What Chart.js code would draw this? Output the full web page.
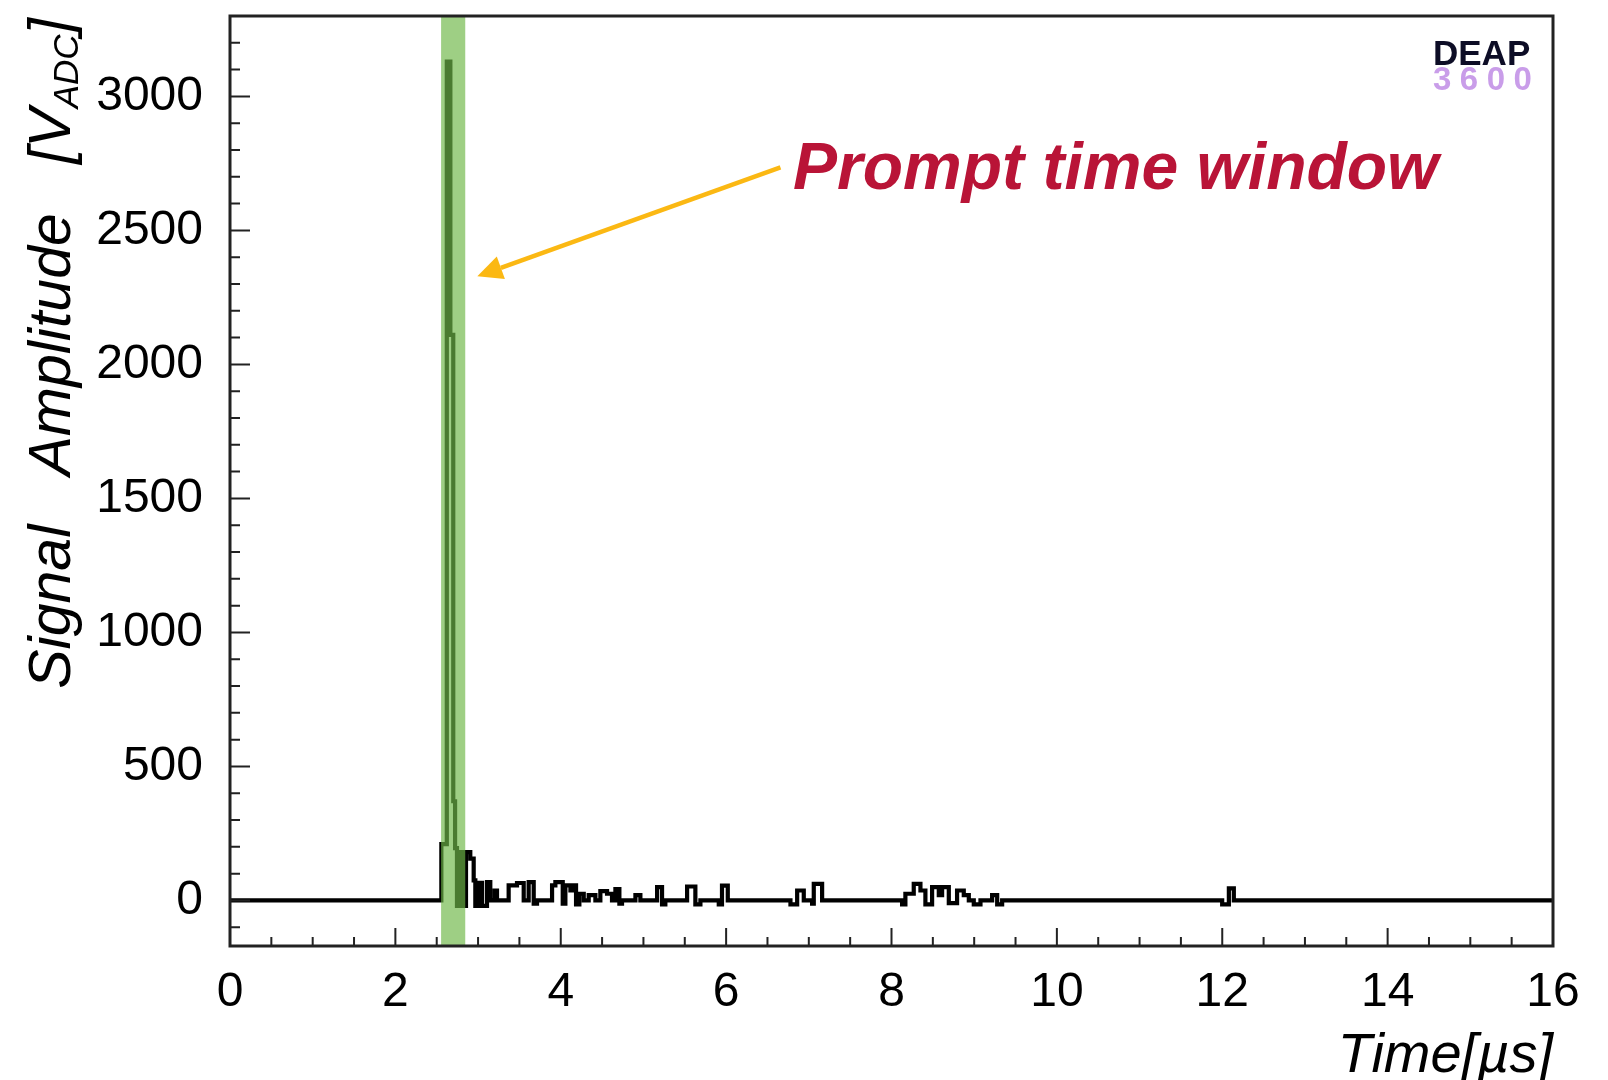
<!DOCTYPE html>
<html>
<head>
<meta charset="utf-8">
<script src="https://cdn.jsdelivr.net/npm/chart.js@4.4.1/dist/chart.umd.min.js"></script>
<style>
  html, body { margin: 0; padding: 0; background: #fff; }
  #wrap { width: 1608px; height: 1080px; }
</style>
</head>
<body>
<div id="wrap"><canvas id="waveChart" width="1608" height="1080"></canvas></div>
<script>
// PMT trace: each entry starts a step, amplitude held until the next time
const waveTime = [
    0, 2.556, 2.622, 2.665, 2.700, 2.722, 2.745, 2.776, 2.826, 2.854,
    2.906, 2.947, 2.967, 3.007, 3.048, 3.108, 3.148, 3.200, 3.229, 3.370,
    3.471, 3.552, 3.612, 3.673, 3.713, 3.895, 3.935, 4.024, 4.056, 4.117,
    4.145, 4.185, 4.225, 4.278, 4.338, 4.419, 4.479, 4.560, 4.620, 4.661,
    4.709, 4.741, 4.903, 4.963, 5.165, 5.225, 5.265, 5.528, 5.628, 5.689,
    5.911, 5.950, 6.020, 6.778, 6.859, 6.939, 7.040, 7.060, 7.161, 8.128,
    8.168, 8.269, 8.350, 8.410, 8.491, 8.572, 8.612, 8.693, 8.793, 8.874,
    8.935, 8.995, 9.076, 9.217, 9.278, 9.338, 11.999, 12.080, 12.140, 16
];
const waveAmp = [
    0, 210, 3130, 2110, 370, 195, -20, 180, -20, 180,
    156, 75, -20, 66, -20, 68, 0, 37, 0, 56,
    65, 0, 68, -12, 0, 56, 68, -12, 56, 37,
    56, -15, 25, 0, 20, 0, 35, 25, 0, 42,
    -12, 0, 20, 0, 50, -15, 0, 52, -15, 0,
    -15, 55, 0, -15, 37, 0, -12, 62, 0, -15,
    25, 62, 37, -15, 50, 20, 50, -10, 37, 20,
    0, -15, 0, 20, -15, 0, -15, 45, 0, 0
];

const xTicks = [0, 2, 4, 6, 8, 10, 12, 14, 16];
const yTicks = [0, 500, 1000, 1500, 2000, 2500, 3000];
const xMinorStep = 0.5;
const yMinorStep = 100;

// prompt integration window [µs]
const promptWindow = [2.553, 2.845];
const arrowFrom = [6.657, 2735];
const arrowTo = [2.991, 2329];
const promptLabelAt = [6.81, 2654];
const promptLabel = 'Prompt time window';

const xTitle = 'Time[\u00b5s]';
const yTitle = 'Signal   Amplitude   [V';
const yTitleSub = 'ADC';

const FONT = '"Liberation Sans", Arial, Helvetica, sans-serif';

function drawFrame(chart) {
    const { ctx, chartArea: area, scales: { x, y } } = chart;
    ctx.save();
    ctx.strokeStyle = '#222';
    ctx.lineWidth = 2;
    ctx.beginPath();
    // inward ticks on the bottom axis
    const nx = Math.round((x.max - x.min) / xMinorStep);
    for (let i = 0; i <= nx; i++) {
        const v = x.min + i * xMinorStep;
        const px = x.getPixelForValue(v);
        const len = xTicks.includes(v) ? 18 : 9;
        ctx.moveTo(px, area.bottom);
        ctx.lineTo(px, area.bottom - len);
    }
    // inward ticks on the left axis
    const first = Math.ceil(y.min / yMinorStep);
    const last = Math.floor(y.max / yMinorStep);
    for (let k = first; k <= last; k++) {
        const v = k * yMinorStep;
        const py = y.getPixelForValue(v);
        const len = yTicks.includes(v) ? 20 : 10;
        ctx.moveTo(area.left, py);
        ctx.lineTo(area.left + len, py);
    }
    ctx.stroke();

    ctx.lineWidth = 3;
    ctx.strokeRect(area.left, area.top, area.right - area.left, area.bottom - area.top);
    ctx.restore();
}

function drawAxisTitles(chart) {
    const { ctx, chartArea: area } = chart;
    ctx.save();
    ctx.fillStyle = '#000';
    ctx.textBaseline = 'alphabetic';

    ctx.font = 'italic 56px ' + FONT;
    ctx.textAlign = 'right';
    ctx.fillText(xTitle, area.right, 1072);

    // y title runs bottom-to-top and ends level with the frame top
    const mainFont = 'italic 59px ' + FONT;
    const subFont = 'italic 35px ' + FONT;
    ctx.font = mainFont;
    const wMain = ctx.measureText(yTitle).width;
    const wClose = ctx.measureText(']').width;
    ctx.font = subFont;
    const wSub = ctx.measureText(yTitleSub).width;

    ctx.translate(70, area.top + 2);
    ctx.rotate(-Math.PI / 2);
    ctx.textAlign = 'left';
    let pos = -(wMain + wSub + wClose);
    ctx.font = mainFont;
    ctx.fillText(yTitle, pos, 0);
    pos += wMain;
    ctx.font = subFont;
    ctx.fillText(yTitleSub, pos, 8);
    pos += wSub;
    ctx.font = mainFont;
    ctx.fillText(']', pos, 0);
    ctx.restore();
}

function drawAnnotation(chart) {
    const { ctx, scales: { x, y } } = chart;
    const x0 = x.getPixelForValue(arrowFrom[0]);
    const y0 = y.getPixelForValue(arrowFrom[1]);
    const x1 = x.getPixelForValue(arrowTo[0]);
    const y1 = y.getPixelForValue(arrowTo[1]);
    const ang = Math.atan2(y1 - y0, x1 - x0);
    const headLen = 25;
    const headHalf = 12;
    const bx = x1 - headLen * Math.cos(ang);
    const by = y1 - headLen * Math.sin(ang);

    ctx.save();
    ctx.strokeStyle = '#fbb813';
    ctx.fillStyle = '#fbb813';
    ctx.lineWidth = 4.5;
    ctx.beginPath();
    ctx.moveTo(x0, y0);
    ctx.lineTo(bx, by);
    ctx.stroke();
    ctx.beginPath();
    ctx.moveTo(x1, y1);
    ctx.lineTo(bx + headHalf * Math.sin(ang), by - headHalf * Math.cos(ang));
    ctx.lineTo(bx - headHalf * Math.sin(ang), by + headHalf * Math.cos(ang));
    ctx.closePath();
    ctx.fill();

    ctx.fillStyle = '#b91437';
    ctx.font = 'italic bold 66px ' + FONT;
    ctx.textAlign = 'left';
    ctx.textBaseline = 'alphabetic';
    ctx.fillText(promptLabel, x.getPixelForValue(promptLabelAt[0]), y.getPixelForValue(promptLabelAt[1]));
    ctx.restore();
}

function drawLogo(chart) {
    const { ctx, chartArea: area } = chart;
    const left = area.right - 120;
    ctx.save();
    ctx.textAlign = 'left';
    ctx.textBaseline = 'alphabetic';
    ctx.fillStyle = '#0d0d26';
    ctx.font = 'bold 35px ' + FONT;
    ctx.fillText('DEAP', left, area.top + 49);

    ctx.fillStyle = '#c99de9';
    ctx.font = 'bold 33px ' + FONT;
    let cx = left;
    for (const ch of '3600') {
        ctx.fillText(ch, cx, area.top + 74);
        cx += ctx.measureText(ch).width + 8.5;
    }
    ctx.restore();
}

const overlayPlugin = {
    id: 'overlay',
    afterDatasetsDraw(chart) {
        const { ctx, chartArea: area, scales: { x } } = chart;
        const x0 = x.getPixelForValue(promptWindow[0]);
        const x1 = x.getPixelForValue(promptWindow[1]);
        ctx.save();
        ctx.fillStyle = 'rgba(111, 183, 72, 0.67)';
        ctx.fillRect(x0, area.top, x1 - x0, area.bottom - area.top);
        ctx.restore();
    },
    afterDraw(chart) {
        drawFrame(chart);
        drawAxisTitles(chart);
        drawAnnotation(chart);
        drawLogo(chart);
    }
};

const points = waveTime.map((t, i) => ({ x: t, y: waveAmp[i] }));

new Chart(document.getElementById('waveChart').getContext('2d'), {
    type: 'line',
    data: {
        datasets: [{
            data: points,
            stepped: 'before',
            borderColor: '#000',
            borderWidth: 4.2,
            pointRadius: 0,
            fill: false,
            borderJoinStyle: 'miter'
        }]
    },
    options: {
        responsive: false,
        animation: false,
        devicePixelRatio: 1,
        events: [],
        layout: { padding: { left: 0, top: 16, right: 55, bottom: 0 } },
        plugins: {
            legend: { display: false },
            tooltip: { enabled: false }
        },
        scales: {
            x: {
                type: 'linear',
                min: 0,
                max: 16,
                grid: { display: false, drawTicks: false },
                border: { display: false },
                afterBuildTicks: scale => { scale.ticks = xTicks.map(v => ({ value: v })); },
                afterFit: scale => {
                    scale.height = 134;
                    scale.paddingLeft = 0;
                    scale.paddingRight = 0;
                },
                ticks: {
                    padding: 18,
                    maxRotation: 0,
                    color: '#000',
                    font: { family: FONT, size: 48 },
                    callback: v => String(v)
                }
            },
            y: {
                min: -170,
                max: 3300,
                grid: { display: false, drawTicks: false },
                border: { display: false },
                afterBuildTicks: scale => { scale.ticks = yTicks.map(v => ({ value: v })); },
                afterFit: scale => {
                    scale.width = 230;
                    scale.paddingTop = 0;
                    scale.paddingBottom = 0;
                },
                ticks: {
                    padding: 27,
                    color: '#000',
                    font: { family: FONT, size: 48 },
                    callback: v => String(v)
                }
            }
        }
    },
    plugins: [overlayPlugin]
});
</script>
</body>
</html>
